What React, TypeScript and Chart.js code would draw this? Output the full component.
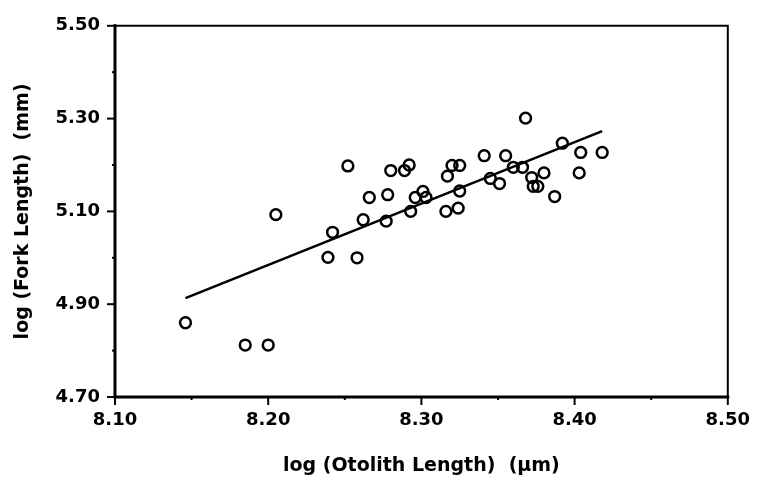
import React, { useEffect, useRef } from "react";
import { Chart, registerables } from "chart.js";

Chart.register(...registerables);

const otolithLog: number[] = [
  8.146, 8.185, 8.2, 8.205, 8.239, 8.242, 8.252, 8.258, 8.262, 8.266,
  8.277, 8.278, 8.28, 8.289, 8.292, 8.293, 8.296, 8.301, 8.303, 8.316,
  8.317, 8.32, 8.325, 8.324, 8.325, 8.341, 8.345, 8.351, 8.355, 8.36,
  8.366, 8.368, 8.372, 8.373, 8.376, 8.38, 8.387, 8.392, 8.403, 8.404, 8.418,
];
const forkLog: number[] = [
  4.86, 4.812, 4.812, 5.093, 5.001, 5.055, 5.198, 5.0, 5.082, 5.13,
  5.079, 5.136, 5.188, 5.188, 5.2, 5.1, 5.13, 5.143, 5.13, 5.1,
  5.176, 5.199, 5.199, 5.107, 5.144, 5.22, 5.171, 5.16, 5.22, 5.195,
  5.195, 5.301, 5.173, 5.154, 5.154, 5.183, 5.132, 5.247, 5.183, 5.227, 5.227,
];
const fitX: number[] = [8.146, 8.418];
const fitY: number[] = [4.913, 5.273];

const xMajorTicks: string[] = ["8.10", "8.20", "8.30", "8.40", "8.50"];
const yMajorTicks: string[] = ["4.70", "4.90", "5.10", "5.30", "5.50"];

const FONT = "'DejaVu Sans', sans-serif";

const frameAndTicks = {
  id: "frameAndTicks",
  afterDraw(chart: any) {
    const { ctx, chartArea } = chart;
    const { left, right, top, bottom } = chartArea;
    const xs = chart.scales.x;
    const ys = chart.scales.y;
    ctx.save();
    ctx.strokeStyle = "#000";
    ctx.lineCap = "square";
    ctx.lineWidth = 2;
    ctx.beginPath();
    ctx.moveTo(left, top);
    ctx.lineTo(right, top);
    ctx.lineTo(right, bottom);
    ctx.stroke();
    ctx.lineWidth = 3;
    ctx.beginPath();
    ctx.moveTo(left, top);
    ctx.lineTo(left, bottom);
    ctx.lineTo(right, bottom);
    ctx.stroke();
    ctx.lineWidth = 2;
    ctx.lineCap = "butt";
    ys.ticks.forEach((t: any) => {
      const major = Math.round(t.value * 10) % 2 === 1;
      const py = ys.getPixelForValue(t.value);
      ctx.beginPath();
      ctx.moveTo(left, py);
      ctx.lineTo(left - (major ? 8 : 3), py);
      ctx.stroke();
    });
    xs.ticks.forEach((t: any) => {
      const major = Math.round(t.value * 100) % 10 === 0;
      const px = xs.getPixelForValue(t.value);
      ctx.beginPath();
      ctx.moveTo(px, bottom);
      ctx.lineTo(px, bottom + (major ? 8 : 3));
      ctx.stroke();
    });
    ctx.restore();
  },
};

export default function App() {
  const ref = useRef<HTMLCanvasElement | null>(null);
  useEffect(() => {
    document.body.style.margin = "0";
    const canvas = ref.current;
    if (!canvas) return;
    const points = otolithLog.map((x, i) => ({ x, y: forkLog[i] }));
    const fit = fitX.map((x, i) => ({ x, y: fitY[i] }));
    const chart = new Chart(canvas, {
      type: "scatter",
      data: {
        datasets: [
          {
            type: "line",
            data: fit,
            borderColor: "#000",
            borderWidth: 2.6,
            pointRadius: 0,
            fill: false,
          },
          {
            data: points,
            pointStyle: "circle",
            pointRadius: 5.4,
            pointBorderWidth: 2.5,
            borderColor: "#000",
            backgroundColor: "rgba(0,0,0,0)",
          },
        ],
      } as any,
      options: {
        animation: false,
        responsive: false,
        maintainAspectRatio: false,
        devicePixelRatio: 1,
        layout: { padding: { left: 0, top: 16, right: 28, bottom: 0 } },
        plugins: { legend: { display: false }, tooltip: { enabled: false } },
        scales: {
          x: {
            type: "linear",
            min: 8.1,
            max: 8.5,
            afterFit: (s: any) => {
              s.height = 86;
            },
            afterBuildTicks: (s: any) => {
              const arr = [];
              for (let i = 0; i <= 8; i++) arr.push({ value: 8.1 + i * 0.05 });
              s.ticks = arr;
            },
            grid: { display: false, drawTicks: false },
            border: { display: false },
            ticks: {
              autoSkip: false,
              maxRotation: 0,
              padding: 13,
              color: "#000",
              font: { family: FONT, size: 18, weight: "bold" },
              callback: (v: any) => {
                const k = Math.round(Number(v) * 100);
                if (k % 10 !== 0) return "";
                return xMajorTicks[(k - 810) / 10];
              },
            },
            title: {
              display: true,
              text: "log (Otolith Length)  (\u03bcm)",
              color: "#000",
              font: { family: FONT, size: 19, weight: "bold" },
              padding: { top: 0, bottom: 6 },
            },
          },
          y: {
            type: "linear",
            min: 4.7,
            max: 5.5,
            afterFit: (s: any) => {
              s.width = 115;
            },
            afterBuildTicks: (s: any) => {
              const arr = [];
              for (let i = 0; i <= 8; i++) arr.push({ value: 4.7 + i * 0.1 });
              s.ticks = arr;
            },
            grid: { display: false, drawTicks: false },
            border: { display: false },
            ticks: {
              autoSkip: false,
              padding: 15,
              color: "#000",
              font: { family: FONT, size: 18, weight: "bold" },
              callback: (v: any) => {
                const k = Math.round(Number(v) * 10);
                if (k % 2 !== 1) return "";
                return yMajorTicks[(k - 47) / 2];
              },
            },
            title: {
              display: true,
              text: "log (Fork Length)  (mm)",
              color: "#000",
              font: { family: FONT, size: 19, weight: "bold" },
              padding: { top: 12, bottom: 0 },
            },
          },
        },
      },
      plugins: [frameAndTicks],
    });
    return () => chart.destroy();
  }, []);
  return (
    <div style={{ position: "fixed", left: 0, top: 0, width: 763, height: 483 }}>
      <canvas ref={ref} width={763} height={483} style={{ width: 763, height: 483 }} />
    </div>
  );
}
